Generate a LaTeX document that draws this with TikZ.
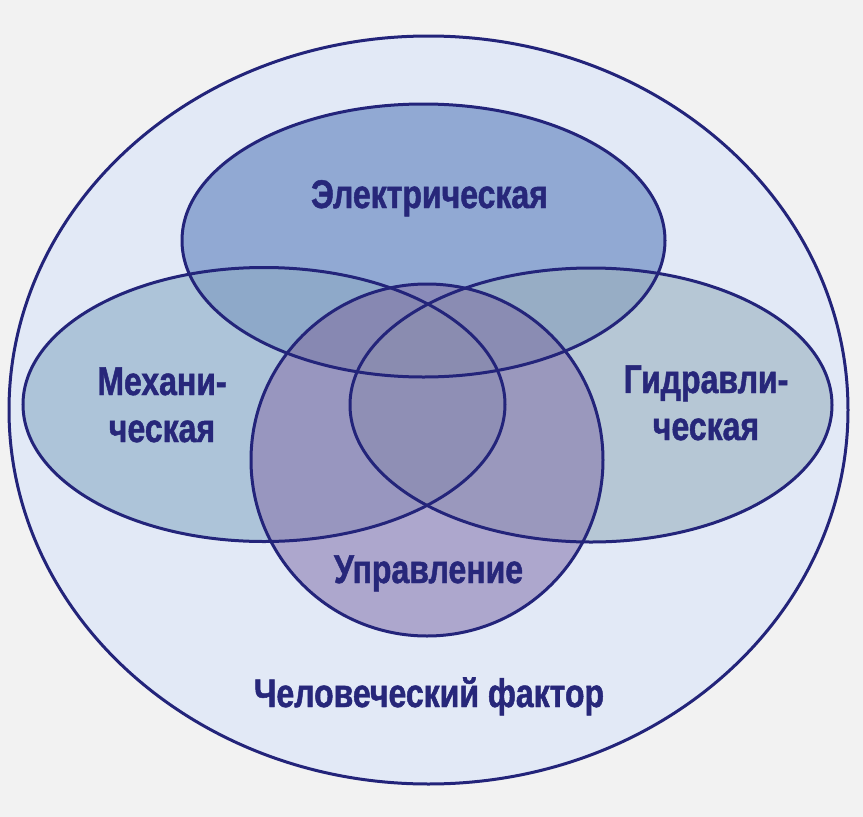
\documentclass[tikz,border=0pt]{standalone}
\usepackage{fontspec}
\newfontfamily\lblfont[FakeStretch=0.8,FakeBold=1.2]{Liberation Sans}
\definecolor{pagebg}{HTML}{F2F2F2}
\definecolor{outerfill}{HTML}{E2E9F6}
\definecolor{lineblue}{HTML}{23247A}
\definecolor{txtblue}{HTML}{27277A}
\definecolor{eFill}{HTML}{91A9D3}
\definecolor{mFill}{HTML}{ADC4D9}
\definecolor{hFill}{HTML}{B6C7D5}
\definecolor{cFill}{HTML}{ADA7CD}
\definecolor{emFill}{HTML}{8EA9C9}
\definecolor{ehFill}{HTML}{97ADC5}
\definecolor{ecFill}{HTML}{8A8BB9}
\definecolor{mcFill}{HTML}{9896BF}
\definecolor{hcFill}{HTML}{9A98BD}
\definecolor{mhFill}{HTML}{8F8FB5}
\definecolor{emcFill}{HTML}{8788B2}
\definecolor{ehcFill}{HTML}{8A8CB3}
\definecolor{allFill}{HTML}{8A8CB0}
\tikzset{
  outline/.style={draw=lineblue, line width=3pt},
  lbl/.style={font=\lblfont\bfseries\fontsize{40}{47}\selectfont, text=txtblue, inner sep=0pt, align=center}
}
\def\shO{(428.5,410) ellipse [x radius=419.5, y radius=374]}
\def\shE{(423.5,240.5) ellipse [x radius=241.5, y radius=136.5]}
\def\shM{(264,404.5) ellipse [x radius=241, y radius=137]}
\def\shH{(591,405) ellipse [x radius=241, y radius=137]}
\def\shC{(427,460) circle [radius=176]}
\begin{document}
\begin{tikzpicture}[x=1pt,y=-1pt]
\useasboundingbox (0,0) rectangle (863,817);
\fill[pagebg] (0,0) rectangle (863,817);
% outer
\fill[outerfill] \shO;
% single sets
\fill[mFill] \shM;
\fill[hFill] \shH;
\fill[eFill] \shE;
\fill[cFill] \shC;
% pairs
\begin{scope}\clip \shE; \fill[emFill] \shM; \end{scope}
\begin{scope}\clip \shE; \fill[ehFill] \shH; \end{scope}
\begin{scope}\clip \shE; \fill[ecFill] \shC; \end{scope}
\begin{scope}\clip \shM; \fill[mcFill] \shC; \end{scope}
\begin{scope}\clip \shH; \fill[hcFill] \shC; \end{scope}
\begin{scope}\clip \shM; \fill[mhFill] \shH; \end{scope}
% triples
\begin{scope}\clip \shE; \clip \shM; \fill[emcFill] \shC; \end{scope}
\begin{scope}\clip \shE; \clip \shH; \fill[ehcFill] \shC; \end{scope}
% all
\begin{scope}\clip \shE; \clip \shM; \clip \shH; \fill[allFill] \shC; \end{scope}
% outlines
\draw[outline] \shO;
\draw[outline] \shE;
\draw[outline] \shM;
\draw[outline] \shH;
\draw[outline] \shC;
% labels
\node[lbl, anchor=base] (elec) at (429.5,208) {Электрическая};
\node[lbl, anchor=base] (mech) at (162,442) {Механи-\\ческая};
\node[lbl, anchor=base] (hydr) at (706,440) {Гидравли-\\ческая};
\node[lbl, anchor=base] (ctrl) at (428.5,583) {Управление};
\node[lbl, anchor=base] (human) at (429,707) {Человеческий фактор};
\end{tikzpicture}
\end{document}
